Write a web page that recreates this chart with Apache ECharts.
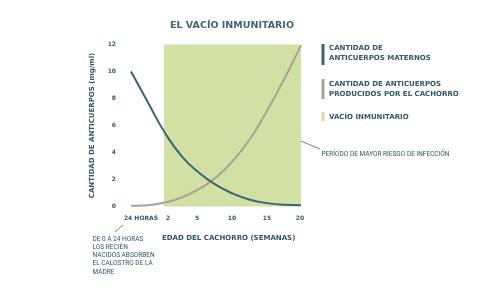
<!DOCTYPE html>
<html>
<head>
<meta charset="utf-8">
<script src="https://cdn.jsdelivr.net/npm/echarts@6/dist/echarts.min.js"></script>
<style>html,body{margin:0;padding:0;background:#fff;}#c{width:501px;height:301px;}</style>
</head>
<body>
<div id="c"></div>
<script>
// x positions are in a relative "age" scale (0 = birth ... 170 = 20 weeks)
var xTickPos = [10, 37, 66, 101, 136, 169];
var xTickLabels = ['24 HORAS', '2', '5', '10', '15', '20'];
var yTicks = [0, 2, 4, 6, 8, 10, 12];
var gapStart = 33, gapEnd = 170;
var maternal = [[0,10],[17,7.7],[34,5.45],[51,3.7],[68,2.5],[85,1.6],[102,0.95],[119,0.5],[136,0.25],[153,0.13],[170,0.1]];
var pup = [[0,0.05],[17,0.1],[34,0.3],[51,0.68],[68,1.3],[85,2.15],[102,3.4],[119,5.0],[136,7.1],[153,9.4],[170,11.95]];

var teal = '#3b6574', grey = '#a8a199', green = '#d0e1a3', txt = '#2f5868';
var chart = echarts.init(document.getElementById('c'));
chart.setOption({
  animation: false,
  grid: {left: 131, right: 200, top: 44.5, bottom: 94.5},
  xAxis: {
    type: 'value', min: 0, max: 170,
    axisLine: {show: false}, axisTick: {show: false}, splitLine: {show: false},
    axisLabel: {
      customValues: xTickPos, margin: 9,
      color: txt, fontFamily: 'DejaVu Sans', fontWeight: 'bold', fontSize: 6,
      formatter: function (v) { var i = xTickPos.indexOf(v); return i >= 0 ? xTickLabels[i] : ''; }
    }
  },
  yAxis: {
    type: 'value', min: 0, max: 12, interval: 2,
    axisLine: {show: false}, axisTick: {show: false}, splitLine: {show: false},
    axisLabel: {margin: 15, color: txt, fontFamily: 'DejaVu Sans', fontWeight: 'bold', fontSize: 6},
    name: 'CANTIDAD DE ANTICUERPOS (mg/ml)', nameLocation: 'middle', nameGap: 35,
    nameTextStyle: {color: txt, fontFamily: 'DejaVu Sans', fontWeight: 'bold', fontSize: 7}
  },
  series: [
    {
      type: 'line', data: maternal, smooth: 0.5, symbol: 'none',
      lineStyle: {color: teal, width: 2}, z: 3,
      markArea: {silent: true, itemStyle: {color: green, opacity: 1},
        data: [[{xAxis: gapStart, yAxis: 0}, {xAxis: gapEnd, yAxis: 12}]]}
    },
    {
      type: 'line', data: pup, smooth: 0.5, symbol: 'none',
      lineStyle: {color: grey, width: 2}, z: 2
    }
  ],
  graphic: [
    {type: 'text', x: 232, y: 26, style: {text: 'EL VACÍO INMUNITARIO', fill: '#3d6673', font: 'bold 9.5px "DejaVu Sans"', align: 'center', verticalAlign: 'middle'}},
    {type: 'text', x: 162, y: 238, style: {text: 'EDAD DEL CACHORRO (SEMANAS)', fill: txt, font: 'bold 7px "DejaVu Sans"', align: 'left', verticalAlign: 'middle'}},
    // legend
    {type: 'rect', shape: {x: 321.5, y: 44, width: 3, height: 21}, style: {fill: teal}},
    {type: 'text', x: 329, y: 43.5, style: {text: 'CANTIDAD DE\nANTICUERPOS MATERNOS', fill: txt, font: 'bold 7px "DejaVu Sans"', lineHeight: 10, verticalAlign: 'top'}},
    {type: 'rect', shape: {x: 321.5, y: 79, width: 3, height: 20}, style: {fill: grey}},
    {type: 'text', x: 329, y: 79.5, style: {text: 'CANTIDAD DE ANTICUERPOS\nPRODUCIDOS POR EL CACHORRO', fill: txt, font: 'bold 7px "DejaVu Sans"', lineHeight: 9.5, verticalAlign: 'top'}},
    {type: 'rect', shape: {x: 321.5, y: 112, width: 3, height: 9}, style: {fill: green}},
    {type: 'text', x: 329, y: 117, style: {text: 'VACÍO INMUNITARIO', fill: txt, font: 'bold 7px "DejaVu Sans"', verticalAlign: 'middle'}},
    // annotations
    {type: 'line', shape: {x1: 289, y1: 136, x2: 320, y2: 149}, style: {stroke: teal, lineWidth: 0.8}},
    {type: 'text', x: 321.5, y: 154, style: {text: 'PERÍODO DE MAYOR RIESGO DE INFECCIÓN', fill: txt, font: '6.5px Roboto', verticalAlign: 'middle'}},
    {type: 'line', shape: {x1: 123, y1: 225, x2: 115, y2: 232}, style: {stroke: teal, lineWidth: 0.8}},
    {type: 'text', x: 92.5, y: 235, style: {text: 'DE 0 A 24 HORAS\nLOS RECIÉN\nNACIDOS ABSORBEN\nEL CALOSTRO DE LA\nMADRE', fill: txt, font: '6.5px Roboto', lineHeight: 8.2, verticalAlign: 'top'}}
  ]
});
</script>
</body>
</html>
